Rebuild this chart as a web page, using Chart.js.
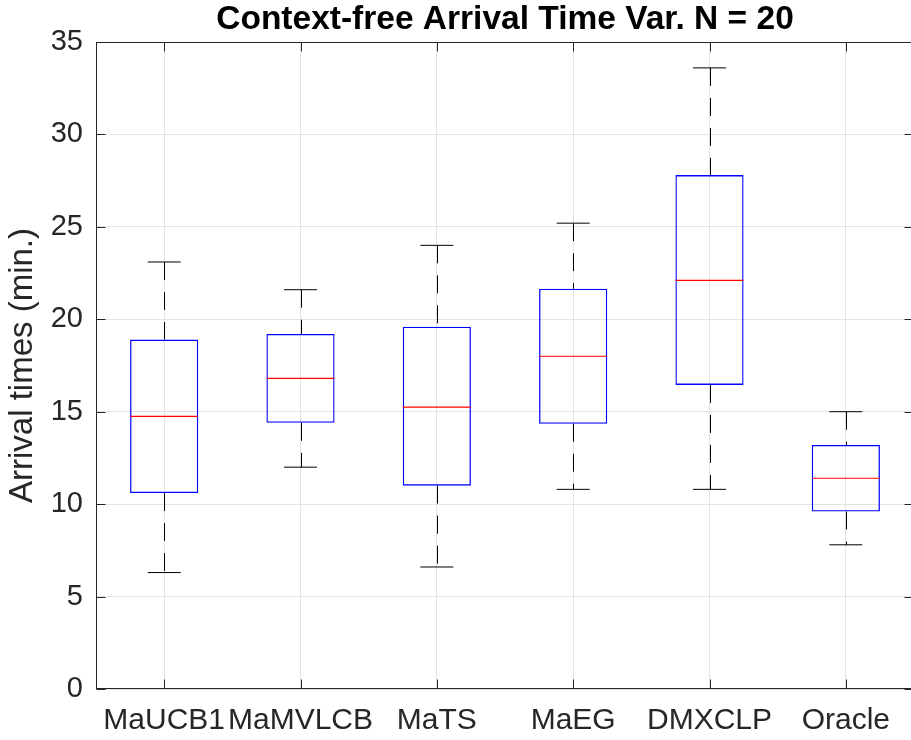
<!DOCTYPE html>
<html>
<head>
<meta charset="utf-8">
<script src="https://cdn.jsdelivr.net/npm/chart.js@4.4.1/dist/chart.umd.min.js"></script>
<style>
  html, body { margin: 0; padding: 0; background: #fff; overflow: hidden; }
  #wrap { width: 924px; height: 740px; }
</style>
</head>
<body>
<div id="wrap"><canvas id="grafico" width="924" height="740"></canvas></div>
<script>
const categorias = ['MaUCB1', 'MaMVLCB', 'MaTS', 'MaEG', 'DMXCLP', 'Oracle'];
const minimos  = [6.3, 12.0, 6.6, 10.8, 10.8, 7.8];
const quartil1 = [10.6, 14.4, 11.0, 14.35, 16.45, 9.6];
const medianas = [14.75, 16.8, 15.25, 18.0, 22.1, 11.4];
const quartil3 = [18.9, 19.2, 19.6, 21.65, 27.8, 13.2];
const maximos  = [23.1, 21.6, 24.0, 25.2, 33.6, 15.0];
const ticksY = [0, 5, 10, 15, 20, 25, 30, 35];
const titulo = 'Context-free Arrival Time Var. N = 20';
const tituloY = 'Arrival times (min.)';

const fonte = '"Liberation Sans", Arial, Helvetica, sans-serif';
const corTexto = '#262626';

const boxplot = {
    id: 'boxplot',
    afterDatasetsDraw(chart) {
        const { ctx, scales: { x, y } } = chart;
        ctx.save();
        ctx.strokeStyle = '#000';
        ctx.lineWidth = 1;
        ctx.setLineDash([18, 12]);
        categorias.forEach((c, i) => {
            const px = Math.round(x.getPixelForValue(i)) + 0.5;
            ctx.beginPath();
            ctx.moveTo(px, y.getPixelForValue(maximos[i]));
            ctx.lineTo(px, y.getPixelForValue(quartil3[i]));
            ctx.stroke();
            ctx.beginPath();
            ctx.moveTo(px, y.getPixelForValue(quartil1[i]));
            ctx.lineTo(px, y.getPixelForValue(minimos[i]));
            ctx.stroke();
        });
        ctx.restore();
    },
    afterDraw(chart) {
        const { ctx, chartArea: a, scales: { x, y } } = chart;
        ctx.save();
        ctx.strokeStyle = corTexto;
        ctx.lineWidth = 1;
        const l = Math.round(a.left) + 0.5, r = Math.round(a.right) - 0.5;
        const t = Math.round(a.top) + 0.5, b = Math.round(a.bottom) - 0.5;
        ctx.strokeRect(l, t, r - l, b - t);
        ctx.beginPath();
        ticksY.forEach(v => {
            const py = Math.round(y.getPixelForValue(v)) + 0.5;
            ctx.moveTo(l, py); ctx.lineTo(l + 9, py);
            ctx.moveTo(r, py); ctx.lineTo(r - 9, py);
        });
        categorias.forEach((c, i) => {
            const px = Math.round(x.getPixelForValue(i)) + 0.5;
            ctx.moveTo(px, b); ctx.lineTo(px, b - 9);
            ctx.moveTo(px, t); ctx.lineTo(px, t + 9);
        });
        ctx.stroke();

        ctx.fillStyle = '#000';
        ctx.font = 'bold 33.5px ' + fonte;
        ctx.textAlign = 'center';
        ctx.textBaseline = 'alphabetic';
        ctx.fillText(titulo, (a.left + a.right) / 2, 29);
        ctx.restore();
    }
};

new Chart(document.getElementById('grafico'), {
    type: 'bar',
    data: {
        labels: categorias,
        datasets: [
            {
                type: 'line',
                data: medianas,
                showLine: false,
                pointStyle: 'line',
                pointRadius: 34,
                pointBorderWidth: 1.2,
                borderColor: '#ff0000',
                pointBorderColor: '#ff0000'
            },
            {
                type: 'line',
                data: maximos,
                showLine: false,
                pointStyle: 'line',
                pointRadius: 16.5,
                pointBorderWidth: 1,
                borderColor: '#000',
                pointBorderColor: '#000'
            },
            {
                type: 'line',
                data: minimos,
                showLine: false,
                pointStyle: 'line',
                pointRadius: 16.5,
                pointBorderWidth: 1,
                borderColor: '#000',
                pointBorderColor: '#000'
            },
            {
                data: quartil1.map((q, i) => [q, quartil3[i]]),
                backgroundColor: 'rgba(0,0,0,0)',
                borderColor: '#0000ff',
                borderWidth: 1.3,
                borderSkipped: false,
                barPercentage: 0.5,
                categoryPercentage: 1
            }
        ]
    },
    options: {
        responsive: false,
        animation: false,
        events: [],
        layout: { autoPadding: false, padding: { top: 42, right: 10, left: 0, bottom: 0 } },
        plugins: {
            legend: { display: false },
            tooltip: { enabled: false },
            title: { display: false }
        },
        scales: {
            x: {
                offset: true,
                grid: { offset: false, color: '#e3e3e3', drawTicks: false },
                border: { display: false },
                ticks: {
                    color: corTexto,
                    font: { family: fonte, size: 30 },
                    padding: 14,
                    maxRotation: 0,
                    autoSkip: false
                },
                afterFit: s => { s.height = 51; }
            },
            y: {
                min: 0,
                max: 35,
                grid: { color: '#e3e3e3', drawTicks: false },
                border: { display: false },
                ticks: {
                    color: corTexto,
                    font: { family: fonte, size: 29 },
                    padding: 13
                },
                afterBuildTicks: s => { s.ticks = ticksY.map(v => ({ value: v })); },
                title: {
                    display: true,
                    text: tituloY,
                    color: corTexto,
                    font: { family: fonte, size: 33 },
                    padding: { top: 3, bottom: 0 }
                },
                afterFit: s => { s.width = 96; }
            }
        }
    },
    plugins: [boxplot]
});
</script>
</body>
</html>
